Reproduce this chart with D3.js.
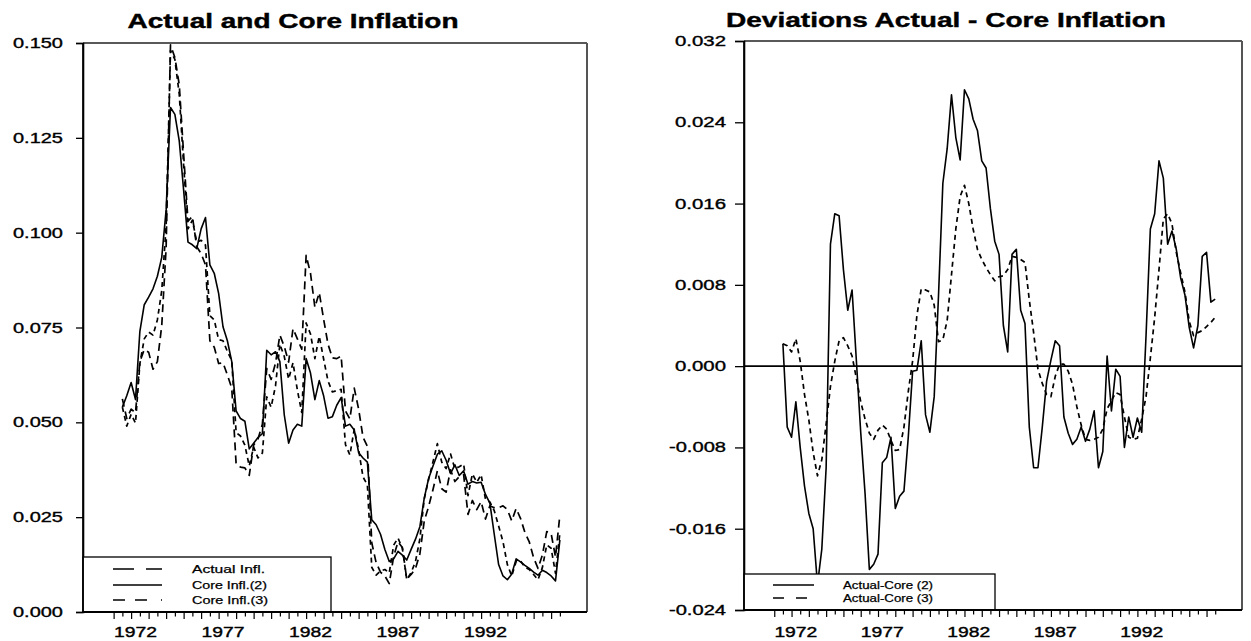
<!DOCTYPE html>
<html>
<head>
<meta charset="utf-8">
<script src="https://cdn.jsdelivr.net/npm/d3@7"></script>
<style>
  html, body { margin: 0; padding: 0; background: #fff; }
  svg { display: block; font-family: "Liberation Sans", Arial, sans-serif; }
</style>
</head>
<body>
<svg id="chart" width="1251" height="641"></svg>
<script>
// Quarterly observations, 1971 Q2 through 1996 Q2
const firstQuarter = 1971.25;
const quarterStep = 0.25;

const actualInfl = [
  0.0562, 0.0510, 0.0535, 0.0525, 0.0660, 0.0692, 0.0685, 0.0640, 0.0660, 0.0755,
  0.0960, 0.1495, 0.1462, 0.1390, 0.1207, 0.1030, 0.1043, 0.0963, 0.0945, 0.0915,
  0.0715, 0.0698, 0.0655, 0.0657, 0.0625, 0.0590, 0.0390, 0.0382, 0.0380, 0.0360,
  0.0440, 0.0456, 0.0495, 0.0642, 0.0613, 0.0656, 0.0730, 0.0700, 0.0659, 0.0747,
  0.0720, 0.0693, 0.0940, 0.0893, 0.0803, 0.0842, 0.0772, 0.0706, 0.0670, 0.0668,
  0.0675, 0.0530, 0.0509, 0.0590, 0.0535, 0.0461, 0.0437, 0.0183, 0.0130, 0.0105,
  0.0095, 0.0075, 0.0146, 0.0185, 0.0170, 0.0087, 0.0099, 0.0115, 0.0153, 0.0240,
  0.0278, 0.0323, 0.0372, 0.0325, 0.0316, 0.0375, 0.0344, 0.0357, 0.0362, 0.0257,
  0.0294, 0.0270, 0.0291, 0.0245, 0.0280, 0.0275, 0.0275, 0.0280, 0.0270, 0.0240,
  0.0273, 0.0247, 0.0210, 0.0185, 0.0143, 0.0115, 0.0150, 0.0212, 0.0207, 0.0145,
  0.0256
];

const coreInfl2 = [
  0.0540, 0.0570, 0.0605, 0.0560, 0.0740, 0.0810, 0.0830, 0.0852, 0.0885, 0.0935,
  0.1060, 0.1330, 0.1312, 0.1242, 0.1112, 0.0975, 0.0968, 0.0958, 0.1010, 0.1040,
  0.0915, 0.0893, 0.0840, 0.0752, 0.0715, 0.0660, 0.0530, 0.0510, 0.0503, 0.0430,
  0.0445, 0.0460, 0.0470, 0.0690, 0.0678, 0.0686, 0.0660, 0.0520, 0.0445, 0.0480,
  0.0495, 0.0490, 0.0668, 0.0630, 0.0560, 0.0610, 0.0570, 0.0511, 0.0515, 0.0545,
  0.0565, 0.0490, 0.0495, 0.0480, 0.0420, 0.0406, 0.0395, 0.0243, 0.0230, 0.0205,
  0.0165, 0.0133, 0.0140, 0.0160, 0.0150, 0.0137, 0.0165, 0.0192, 0.0225, 0.0300,
  0.0352, 0.0385, 0.0416, 0.0425, 0.0400, 0.0365, 0.0388, 0.0360, 0.0372, 0.0337,
  0.0344, 0.0340, 0.0342, 0.0310, 0.0287, 0.0205, 0.0125, 0.0095, 0.0085, 0.0100,
  0.0140, 0.0132, 0.0123, 0.0115, 0.0105, 0.0097, 0.0110, 0.0104, 0.0095, 0.0082,
  0.0190
];

const coreInfl3 = [
  0.0540, 0.0490, 0.0521, 0.0498, 0.0655, 0.0720, 0.0738, 0.0730, 0.0770, 0.0847,
  0.1017, 0.1480, 0.1457, 0.1365, 0.1179, 0.1010, 0.1033, 0.0975, 0.0980, 0.0967,
  0.0781, 0.0770, 0.0718, 0.0715, 0.0687, 0.0663, 0.0473, 0.0464, 0.0440, 0.0385,
  0.0435, 0.0406, 0.0419, 0.0567, 0.0540, 0.0596, 0.0706, 0.0674, 0.0614, 0.0657,
  0.0585, 0.0526, 0.0762, 0.0733, 0.0668, 0.0727, 0.0667, 0.0609, 0.0580, 0.0584,
  0.0587, 0.0441, 0.0414, 0.0482, 0.0428, 0.0356, 0.0335, 0.0118, 0.0097, 0.0108,
  0.0112, 0.0103, 0.0176, 0.0195, 0.0168, 0.0085, 0.0104, 0.0133, 0.0193, 0.0298,
  0.0350, 0.0396, 0.0444, 0.0395, 0.0378, 0.0417, 0.0378, 0.0383, 0.0390, 0.0307,
  0.0364, 0.0342, 0.0362, 0.0297, 0.0290, 0.0267, 0.0227, 0.0185, 0.0125, 0.0095,
  0.0133, 0.0135, 0.0118, 0.0112, 0.0099, 0.0085, 0.0117, 0.0177, 0.0168, 0.0102,
  0.0208
];

const devCore2 = [
  0.0022, -0.0060, -0.0070, -0.0035, -0.0080, -0.0118, -0.0145, -0.0160, -0.0215, -0.0180,
  -0.0100, 0.0120, 0.0150, 0.0148, 0.0095, 0.0055, 0.0075, 0.0005, -0.0065, -0.0125,
  -0.0200, -0.0195, -0.0185, -0.0095, -0.0090, -0.0070, -0.0140, -0.0128, -0.0123, -0.0070,
  -0.0005, -0.0004, 0.0025, -0.0048, -0.0065, -0.0030, 0.0070, 0.0180, 0.0214, 0.0267,
  0.0225, 0.0203, 0.0272, 0.0263, 0.0243, 0.0232, 0.0202, 0.0195, 0.0155, 0.0123,
  0.0110, 0.0040, 0.0014, 0.0110, 0.0115, 0.0055, 0.0042, -0.0060, -0.0100, -0.0100,
  -0.0060, -0.0015, 0.0006, 0.0025, 0.0020, -0.0050, -0.0066, -0.0077, -0.0072, -0.0060,
  -0.0074, -0.0062, -0.0044, -0.0100, -0.0084, 0.0010, -0.0044, -0.0003, -0.0010, -0.0080,
  -0.0050, -0.0070, -0.0051, -0.0065, 0.0030, 0.0135, 0.0150, 0.0202, 0.0185, 0.0120,
  0.0133, 0.0115, 0.0087, 0.0070, 0.0038, 0.0018, 0.0040, 0.0108, 0.0112, 0.0063,
  0.0066
];

const devCore3 = [
  0.0022, 0.0020, 0.0014, 0.0027, 0.0005, -0.0028, -0.0053, -0.0085, -0.0108, -0.0092,
  -0.0057, -0.0020, 0.0005, 0.0025, 0.0028, 0.0020, 0.0010, -0.0012, -0.0035, -0.0052,
  -0.0066, -0.0072, -0.0063, -0.0058, -0.0062, -0.0073, -0.0083, -0.0082, -0.0060, -0.0025,
  0.0005, 0.0050, 0.0076, 0.0075, 0.0073, 0.0060, 0.0024, 0.0026, 0.0045, 0.0090,
  0.0135, 0.0167, 0.0178, 0.0160, 0.0135, 0.0115, 0.0105, 0.0097, 0.0090, 0.0084,
  0.0088, 0.0089, 0.0095, 0.0108, 0.0107, 0.0105, 0.0102, 0.0065, 0.0033, -0.0003,
  -0.0017, -0.0028, -0.0030, -0.0010, 0.0002, 0.0002, -0.0005, -0.0018, -0.0040, -0.0058,
  -0.0072, -0.0073, -0.0072, -0.0070, -0.0062, -0.0042, -0.0034, -0.0026, -0.0028, -0.0050,
  -0.0070, -0.0072, -0.0071, -0.0052, -0.0030, 0.0008, 0.0048, 0.0095, 0.0145, 0.0150,
  0.0140, 0.0112, 0.0092, 0.0073, 0.0044, 0.0030, 0.0033, 0.0035, 0.0039, 0.0043,
  0.0048
];

const yearLabels = [1972, 1977, 1982, 1987, 1992];
const levelTicks = [0, 0.025, 0.05, 0.075, 0.1, 0.125, 0.15];
const deviationTicks = [-0.024, -0.016, -0.008, 0, 0.008, 0.016, 0.024, 0.032];

const quarters = actualInfl.map((_, i) => firstQuarter + i * quarterStep);

const svg = d3.select("#chart");

// stretched text helper: keeps the wide look of the original typesetting
function wideText(g, str, x, y, size, width, anchor, weight, thicken) {
  const t = g.append("text")
    .attr("x", x).attr("y", y)
    .attr("font-size", size)
    .attr("font-weight", weight || "normal")
    .attr("text-anchor", anchor || "start")
    .attr("textLength", width)
    .attr("lengthAdjust", "spacingAndGlyphs")
    .attr("fill", "#000")
    .text(str);
  if (thicken) t.attr("stroke", "#000").attr("stroke-width", thicken);
  return t;
}

function drawPanel(cfg) {
  const g = svg.append("g");
  const x = d3.scaleLinear().domain([1969, 1997.8]).range([cfg.left, cfg.right]);
  const y = d3.scaleLinear().domain(cfg.yDomain).range([cfg.bottom, cfg.top]);

  // title
  wideText(g, cfg.title, cfg.titleX, cfg.titleY, 20, cfg.titleWidth, "middle", "bold", 0.4);

  // frame: top and right edges
  g.append("line").attr("x1", cfg.left).attr("x2", cfg.right)
    .attr("y1", cfg.top).attr("y2", cfg.top)
    .attr("stroke", "#222").attr("stroke-width", 1.5);
  g.append("line").attr("x1", cfg.right).attr("x2", cfg.right)
    .attr("y1", cfg.top).attr("y2", cfg.bottom)
    .attr("stroke", "#555").attr("stroke-width", 2);

  // y axis
  const yAxis = d3.axisLeft(y).tickValues(cfg.yTicks).tickSize(cfg.yTickLen).tickFormat("");
  const ya = g.append("g").attr("transform", `translate(${cfg.left},0)`).call(yAxis);
  ya.select(".domain").attr("stroke", "#000").attr("stroke-width", 1.6);
  ya.selectAll(".tick line").attr("stroke", "#000").attr("stroke-width", 1.3);
  cfg.yTicks.forEach(v => {
    const s = d3.format(".3f")(v).replace("−", "-");
    wideText(g, s, cfg.yLabelRight, y(v) + 5, 14, s.startsWith("-") ? cfg.negWidth : cfg.posWidth, "end", "normal", 0.35);
  });

  // x axis with half-year ticks
  const halfYears = d3.range(0, 52).map(k => 1970.75 + k * 0.5);
  const xAxis = d3.axisBottom(x).tickValues(halfYears).tickSize(6).tickFormat("");
  const xa = g.append("g").attr("transform", `translate(0,${cfg.bottom})`).call(xAxis);
  xa.select(".domain").remove();
  xa.selectAll(".tick line")
    .attr("stroke", "#000").attr("stroke-width", 1.2)
    .attr("y2", (d, i) => i % 2 === 0 ? 7 : 4.5);
  yearLabels.forEach(yr => {
    wideText(g, String(yr), x(yr), 637, 15, 43, "middle", "normal", 0.4);
  });

  // zero reference
  if (cfg.zeroLine) {
    g.append("line").attr("x1", cfg.left).attr("x2", cfg.right)
      .attr("y1", y(0)).attr("y2", y(0))
      .attr("stroke", "#000").attr("stroke-width", 1.6);
  }

  // series
  const line = d3.line().x((d, i) => x(quarters[i])).y(d => y(d));
  cfg.series.forEach(s => {
    g.append("path").datum(s.values)
      .attr("d", line)
      .attr("fill", "none")
      .attr("stroke", "#000")
      .attr("stroke-width", s.width)
      .attr("stroke-linejoin", "round")
      .attr("stroke-dasharray", s.dash || null);
  });

  // legend box
  const lg = cfg.legend;
  g.append("rect")
    .attr("x", cfg.left).attr("y", lg.top)
    .attr("width", lg.right - cfg.left).attr("height", cfg.bottom - lg.top)
    .attr("fill", "#fff").attr("stroke", "#000").attr("stroke-width", 1.3);
  cfg.series.forEach((s, i) => {
    const ry = lg.rows[i];
    g.append("line")
      .attr("x1", lg.sampleX0).attr("x2", lg.sampleX1)
      .attr("y1", ry).attr("y2", ry)
      .attr("stroke", "#000").attr("stroke-width", 1.4)
      .attr("stroke-dasharray", s.legendDash || null);
    wideText(g, s.name, lg.textX, ry + 4, lg.fontSize, s.labelWidth, "start", "normal", 0.25);
  });
  // axis lines drawn over the legend box edges
  g.append("line").attr("x1", cfg.left).attr("x2", cfg.left)
    .attr("y1", cfg.top).attr("y2", cfg.bottom)
    .attr("stroke", "#000").attr("stroke-width", 1.7);
  g.append("line").attr("x1", cfg.left).attr("x2", cfg.right)
    .attr("y1", cfg.bottom).attr("y2", cfg.bottom)
    .attr("stroke", "#000").attr("stroke-width", 1.9);
}

drawPanel({
  title: "Actual and Core Inflation", titleX: 293, titleY: 28, titleWidth: 331,
  left: 83, right: 587, top: 43, bottom: 612,
  yDomain: [0, 0.15], yTicks: levelTicks, yTickLen: 7,
  yLabelRight: 63, posWidth: 50, negWidth: 56,
  zeroLine: false,
  series: [
    { name: "Actual Infl.", values: actualInfl, width: 1.7, dash: "8,5", legendDash: "21,12", labelWidth: 73 },
    { name: "Core Infl.(2)", values: coreInfl2, width: 1.6, dash: null, legendDash: null, labelWidth: 75 },
    { name: "Core Infl.(3)", values: coreInfl3, width: 1.7, dash: "5,4", legendDash: "12,10,12,14,1,20", labelWidth: 76 }
  ],
  legend: { top: 557, right: 331, rows: [569, 585, 600], sampleX0: 113, sampleX1: 162, textX: 192, fontSize: 11 }
});

drawPanel({
  title: "Deviations Actual - Core Inflation", titleX: 946, titleY: 27, titleWidth: 440,
  left: 744, right: 1242, top: 41, bottom: 610,
  yDomain: [-0.024, 0.032], yTicks: deviationTicks, yTickLen: 9,
  yLabelRight: 726, posWidth: 51, negWidth: 57,
  zeroLine: true,
  series: [
    { name: "Actual-Core (2)", values: devCore2, width: 1.6, dash: null, legendDash: null, labelWidth: 90 },
    { name: "Actual-Core (3)", values: devCore3, width: 1.7, dash: "5,4", legendDash: "11,12,11,20", labelWidth: 90 }
  ],
  legend: { top: 574, right: 995, rows: [585, 598], sampleX0: 773, sampleX1: 814, textX: 843, fontSize: 10 }
});
</script>
</body>
</html>
